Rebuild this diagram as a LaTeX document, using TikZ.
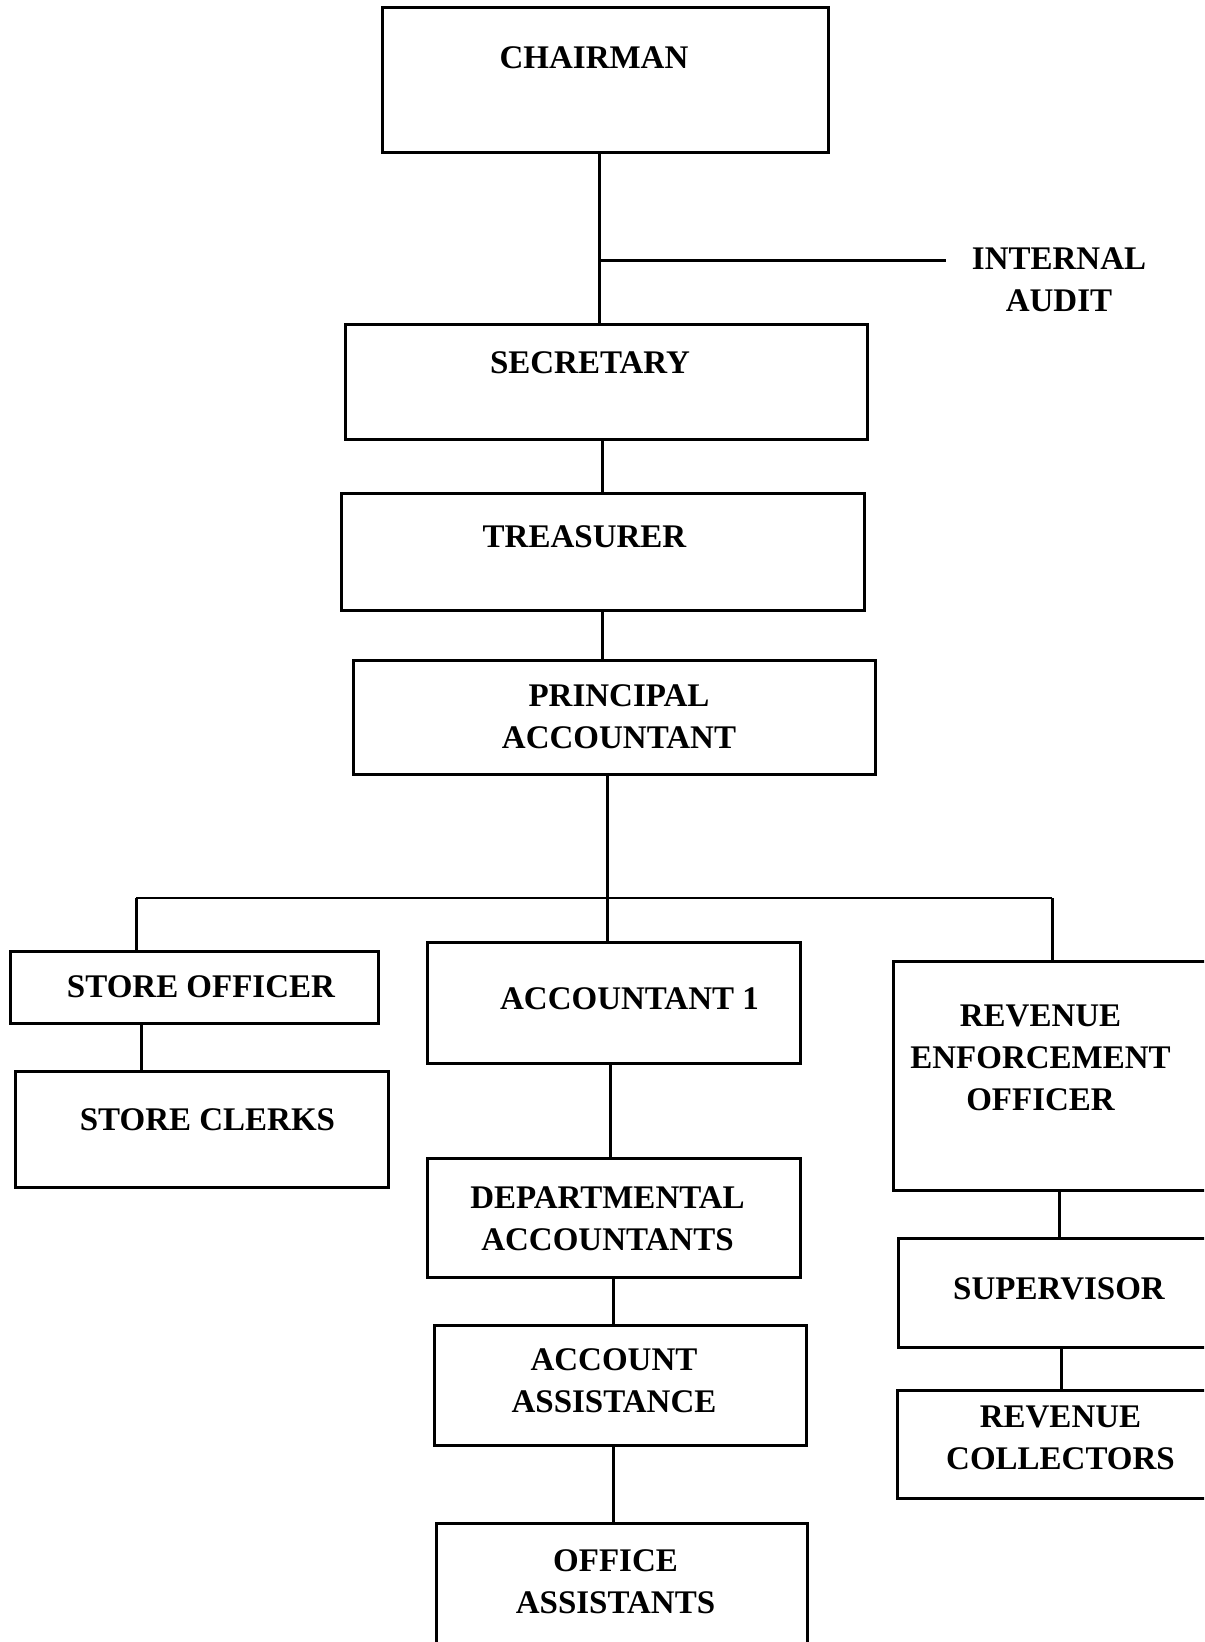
\documentclass[tikz,border=0pt]{standalone}
\usepackage{fontspec}
\setmainfont{Liberation Serif}
\usetikzlibrary{calc}

\begin{document}
\begin{tikzpicture}[x=0.5pt,y=-0.5pt,
  unit/.style={draw, line width=1.5pt, inner sep=0pt},
  txt/.style={font=\bfseries\fontsize{16.5}{21}\selectfont, align=center, inner sep=0pt},
  link/.style={line width=1.5pt},
  bus/.style={line width=0.8pt}]
  \useasboundingbox (0,0) rectangle (1204,1642); \clip (0,0) rectangle (1204,1642);
  % top of the chart
  \node[unit, minimum width=223pt, minimum height=72.5pt, label={[txt,xshift=-5.5pt,yshift=11.25pt]center:CHAIRMAN}] (chair) at (605,80.5) {};
  \node[unit, minimum width=261pt, minimum height=57pt, label={[txt,xshift=-8pt,yshift=9.5pt]center:SECRETARY}] (sec) at (606,382) {};
  \node[unit, minimum width=261.5pt, minimum height=58.5pt, label={[txt,xshift=-9pt,yshift=7.3pt]center:TREASURER}] (treas) at (602.5,551.5) {};
  \node[unit, minimum width=261pt, minimum height=57pt, label={[txt,xshift=2.5pt]center:PRINCIPAL\\ACCOUNTANT}] (princ) at (614,717) {};
  \node[txt, inner xsep=13pt] (audit) at (1059,280) {INTERNAL\\AUDIT};
  % left branch
  \node[unit, minimum width=184pt, minimum height=36pt, label={[txt,xshift=3.5pt]center:STORE OFFICER}] (store) at (194,987) {};
  \node[unit, minimum width=186.5pt, minimum height=58pt, label={[txt,xshift=3pt,yshift=4.5pt]center:STORE CLERKS}] (clerks) at (201.5,1129) {};
  % middle branch
  \node[unit, minimum width=186.5pt, minimum height=60.5pt, label={[txt,xshift=8pt,yshift=2pt]center:ACCOUNTANT 1}] (acc) at (613.5,1002.5) {};
  \node[unit, minimum width=186.5pt, minimum height=59.5pt, label={[txt,xshift=-3pt,yshift=-0.75pt]center:DEPARTMENTAL\\ACCOUNTANTS}] (dept) at (613.5,1217.5) {};
  \node[unit, minimum width=186pt, minimum height=60pt, label={[txt,xshift=-3pt,yshift=2pt]center:ACCOUNT\\ASSISTANCE}] (assist) at (620,1385) {};
  \node[unit, minimum width=185.5pt, minimum height=88.5pt, label={[txt,xshift=-3pt,yshift=15pt]center:OFFICE\\ASSISTANTS}] (office) at (621.5,1611.5) {};
  % right branch
  \node[unit, minimum width=173.5pt, minimum height=114.5pt, label={[txt,xshift=-13pt,yshift=8.75pt]center:REVENUE\\ENFORCEMENT\\OFFICER}] (reo) at (1066.5,1075.5) {};
  \node[unit, minimum width=171pt, minimum height=54.5pt, label={[txt,xshift=-5pt,yshift=1.75pt]center:SUPERVISOR}] (sup) at (1069,1292.5) {};
  \node[unit, minimum width=171.5pt, minimum height=54pt, label={[txt,xshift=-4pt,yshift=3pt]center:REVENUE\\COLLECTORS}] (coll) at (1068.5,1444) {};
  % connectors
  \coordinate (tap) at (599,261); \coordinate (busL) at (136,898); \coordinate (busM) at (607,898); \coordinate (busR) at (1052,898);
  \draw[link] (chair.south -| tap) -- (sec.north -| tap); \draw[link] (tap) -- (tap -| audit.west);
  \draw[link] (treas.north |- sec.south) -- (treas.north); \draw[link] (treas.south) -- (treas.south |- princ.north);
  \draw[link] (princ.south -| busM) -- (acc.north -| busM); \draw[bus] (busL) -- (busR);
  \draw[link] (busL) -- (store.north -| busL); \draw[link] (busR) -- (reo.north -| busR);
  \draw[link] ([xshift=-26.5pt]store.south) -- ([xshift=-26.5pt]store.south |- clerks.north);
  \draw[link] ([xshift=-1.75pt]acc.south) -- ([xshift=-1.75pt]acc.south |- dept.north);
  \draw[link] (dept.south) -- (dept.south |- assist.north);
  \draw[link] ([xshift=-3.5pt]assist.south) -- ([xshift=-3.5pt]assist.south |- office.north);
  \draw[link] ([xshift=-3.75pt]reo.south) -- ([xshift=-3.75pt]reo.south |- sup.north);
  \draw[link] ([xshift=-4pt]sup.south) -- ([xshift=-4pt]sup.south |- coll.north);
\end{tikzpicture}
\end{document}
